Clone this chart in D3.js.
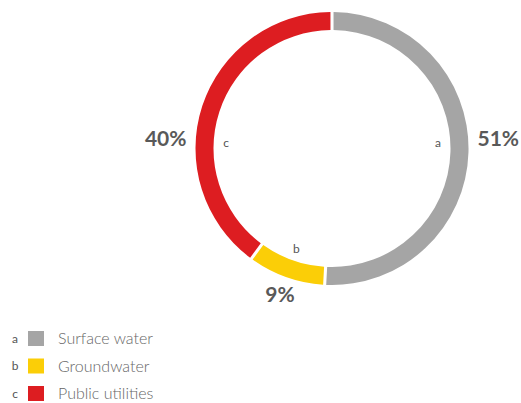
<!DOCTYPE html>
<html>
<head>
<meta charset="utf-8">
<script src="https://cdn.jsdelivr.net/npm/d3@7"></script>
<style>
  body { margin: 0; background: #fff; }
  text { font-family: Lato, "Open Sans", sans-serif; }
</style>
</head>
<body>
<svg id="chart" width="521" height="403"></svg>
<script>
// water sources, share in percent
const keys = ["a", "b", "c"];
const categories = ["Surface water", "Groundwater", "Public utilities"];
const values = [51, 9, 40];
const colors = ["#a5a5a5", "#fbce07", "#dd1d21"];

const svg = d3.select("#chart");
const cx = 332, cy = 148.5;
const outerR = 136.5, innerR = 118.5;

const data = keys.map((k, i) => ({ key: k, name: categories[i], value: values[i], color: colors[i] }));

const pie = d3.pie().sort(null).value(d => d.value).padAngle(0.017);
const arcs = pie(data);

const arc = d3.arc().innerRadius(innerR).outerRadius(outerR);

const g = svg.append("g").attr("transform", `translate(${cx},${cy})`);

g.selectAll("path.slice")
  .data(arcs)
  .join("path")
  .attr("class", "slice")
  .attr("fill", d => d.data.color)
  .attr("d", arc);

// label angle: the horizontal side if the slice covers it, otherwise the middle
const labelAngle = d => {
  const right = Math.PI / 2, left = Math.PI * 1.5;
  if (d.startAngle <= right && d.endAngle >= right) return right;
  if (d.startAngle <= left && d.endAngle >= left) return left;
  return (d.startAngle + d.endAngle) / 2;
};
const isSide = d => Math.abs(Math.sin(labelAngle(d))) > 0.9;

// small letters inside ring
g.selectAll("text.key")
  .data(arcs)
  .join("text")
  .attr("class", "key")
  .attr("x", d => Math.sin(labelAngle(d)) * 106)
  .attr("y", d => -Math.cos(labelAngle(d)) * 106 - (isSide(d) ? 6 : 0))
  .attr("dy", "0.35em")
  .attr("text-anchor", "middle")
  .attr("fill", "#555")
  .style("font-size", "12px")
  .text(d => d.data.key);

// percentages outside
g.selectAll("text.pct")
  .data(arcs)
  .join("text")
  .attr("class", "pct")
  .attr("x", d => Math.sin(labelAngle(d)) * (isSide(d) ? outerR + 9 : 155))
  .attr("y", d => isSide(d) ? -10 : -Math.cos(labelAngle(d)) * 155)
  .attr("dy", "0.36em")
  .attr("text-anchor", d => {
    const s = Math.sin(labelAngle(d));
    return s > 0.9 ? "start" : s < -0.9 ? "end" : "middle";
  })
  .attr("fill", "#595959")
  .style("font-size", "21px")
  .style("font-weight", "bold")
  .text(d => d.data.value + "%");

// legend
const legend = svg.append("g").attr("transform", "translate(0,331)");
const row = legend.selectAll("g")
  .data(data)
  .join("g")
  .attr("transform", (d, i) => `translate(0,${i * 27.5})`);

row.append("text")
  .attr("x", 15).attr("y", 7.5).attr("dy", "0.35em")
  .attr("text-anchor", "middle")
  .attr("fill", "#555")
  .style("font-size", "12px")
  .text(d => d.key);

row.append("rect")
  .attr("x", 28).attr("y", 0)
  .attr("width", 16).attr("height", 15)
  .attr("fill", d => d.color);

row.append("text")
  .attr("x", 58).attr("y", 7.5).attr("dy", "0.36em")
  .attr("fill", "#666")
  .style("font-size", "16px")
  .style("font-weight", 300)
  .text(d => d.name);
</script>
</body>
</html>
